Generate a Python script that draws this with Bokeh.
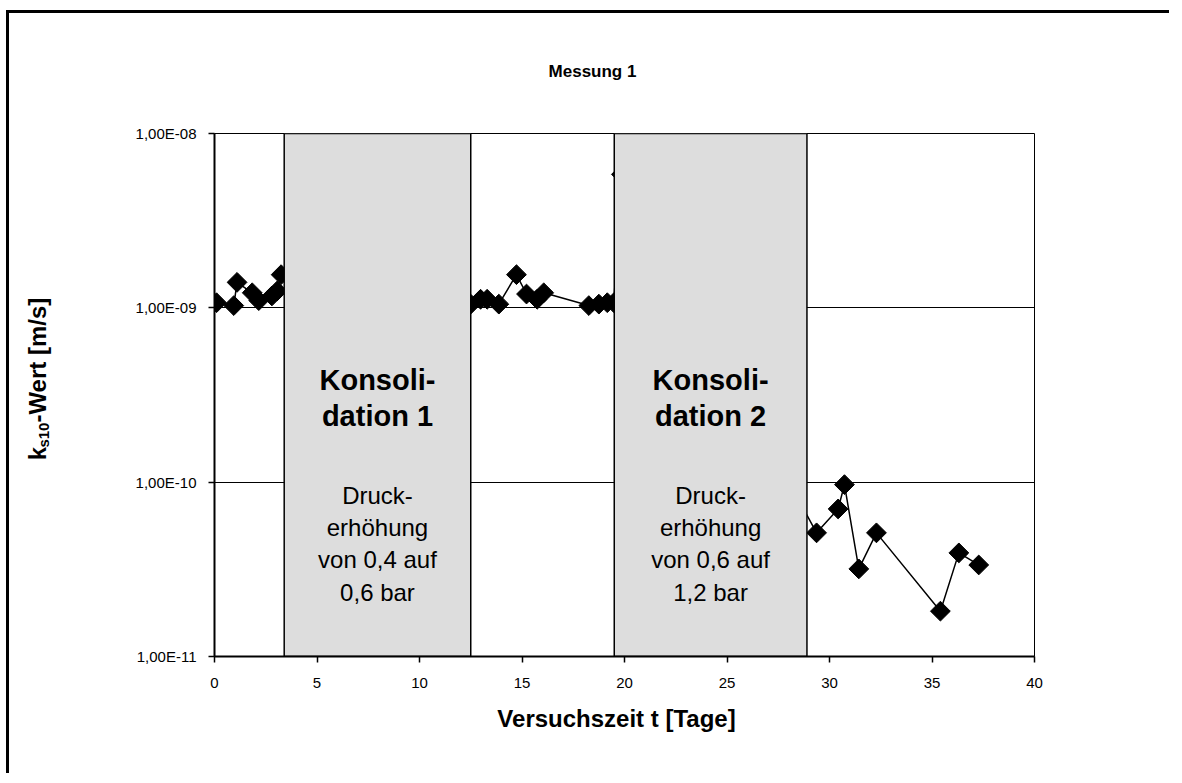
import math
from bokeh.plotting import figure
from bokeh.layouts import column, row
from bokeh.models import Range1d, FixedTicker, CustomJSTickFormatter, Label, ColumnDataSource
from bokeh.embed import file_html
from bokeh.resources import INLINE

# ---------------- data ----------------
title_text = "Messung 1"
x_title = "Versuchszeit t [Tage]"
y_title_main = "k"
y_title_sub = "s10"
y_title_rest = "-Wert [m/s]"

days = [0.1, 0.94, 1.1, 1.84, 2.16, 2.8, 3.06, 3.25,
        12.5, 12.98, 13.3, 13.87, 14.73, 15.22, 15.74, 16.06,
        18.26, 18.75, 19.16, 19.48, 19.85,
        29.37, 30.42, 30.73, 31.43, 32.29, 35.41, 36.31, 37.28]
k_values = [1.07e-9, 1.03e-9, 1.40e-9, 1.22e-9, 1.10e-9, 1.17e-9, 1.25e-9, 1.55e-9,
            1.05e-9, 1.12e-9, 1.12e-9, 1.05e-9, 1.55e-9, 1.20e-9, 1.12e-9, 1.22e-9,
            1.03e-9, 1.05e-9, 1.07e-9, 1.07e-9, 5.83e-9,
            5.12e-11, 7.02e-11, 9.68e-11, 3.18e-11, 5.12e-11, 1.82e-11, 3.93e-11, 3.35e-11]

x_ticks = [0, 5, 10, 15, 20, 25, 30, 35, 40]
y_ticks = [1e-11, 1e-10, 1e-9, 1e-8]
y_tick_labels = ["1,00E-11", "1,00E-10", "1,00E-09", "1,00E-08"]

phase_start = [3.4, 19.5]
phase_end = [12.5, 28.9]
phase_top = [1e-8, 1e-8]
phase_bottom = [1e-11, 1e-11]
phase_titles = [["Konsoli-", "dation 1"], ["Konsoli-", "dation 2"]]
phase_notes = [["Druck-", "erhöhung", "von 0,4 auf", "0,6 bar"],
               ["Druck-", "erhöhung", "von 0,6 auf", "1,2 bar"]]

# ---------------- layout (page pixels) ----------------
FONT = "Liberation Sans"
OX, OY = 9, 13            # content origin inside the bordered container
TOTAL_W = 1160
TOP_H = 100               # strip holding the chart title
MID_H = 587               # main plot row
BOT_H = 73                # strip holding the x-axis title
YLAB_W = 90               # strip holding the y-axis title
FRAME_LEFT, FRAME_TOP, FRAME_RIGHT, FRAME_BOTTOM = 214, 133, 1034, 656


def text_fig(w, h, x0, y0):
    """A blank figure whose data coordinates equal page pixels (y downwards)."""
    f = figure(width=w, height=h, x_range=Range1d(x0, x0 + w), y_range=Range1d(y0 + h, y0),
               min_border=0, min_border_left=0, min_border_right=0,
               min_border_top=0, min_border_bottom=0,
               toolbar_location=None, output_backend="svg",
               x_axis_location=None, y_axis_location=None,
               outline_line_color=None, background_fill_color="white",
               border_fill_color="white")
    f.grid.visible = False
    f.xgrid.grid_line_color = None
    f.ygrid.grid_line_color = None
    return f


def fy(py):   # page y -> frame-relative screen y in the main plot
    return FRAME_BOTTOM - py


# --- main plot ---
p_left = OX + YLAB_W
p_top = OY + TOP_H
p_w = TOTAL_W - YLAB_W
p = figure(width=p_w, height=MID_H, y_axis_type="log",
           x_range=Range1d(0, 40), y_range=Range1d(1e-11, 1e-8),
           output_backend="svg", toolbar_location=None,
           min_border_left=FRAME_LEFT - p_left,
           min_border_right=p_w - (FRAME_LEFT - p_left) - (FRAME_RIGHT - FRAME_LEFT),
           min_border_top=FRAME_TOP - p_top,
           min_border_bottom=MID_H - (FRAME_TOP - p_top) - (FRAME_BOTTOM - FRAME_TOP),
           background_fill_color="white", border_fill_color="white")

p.outline_line_color = "black"
p.outline_line_width = 1
p.xgrid.grid_line_color = None
p.ygrid.ticker = FixedTicker(ticks=y_ticks)
p.ygrid.grid_line_color = "black"
p.ygrid.grid_line_width = 1

p.xaxis.ticker = FixedTicker(ticks=x_ticks)
p.yaxis.ticker = FixedTicker(ticks=y_ticks)
p.yaxis.formatter = CustomJSTickFormatter(args=dict(tvals=y_ticks, labs=y_tick_labels), code="""
let best = 0, bd = 1e9;
for (let i = 0; i < tvals.length; i++) {
  const d = Math.abs(Math.log10(tvals[i]) - Math.log10(tick));
  if (d < bd) { bd = d; best = i; }
}
return labs[best];
""")
for ax in (p.xaxis[0], p.yaxis[0]):
    ax.axis_line_color = "black"
    ax.axis_line_width = 2
    ax.major_tick_line_color = "black"
    ax.major_tick_line_width = 1.5
    ax.major_tick_out = 6
    ax.major_tick_in = 0
    ax.minor_tick_line_color = None
    ax.major_label_text_font = FONT
    ax.major_label_text_font_size = "15px"
    ax.major_label_text_color = "black"
p.xaxis.major_label_standoff = 15
p.yaxis.major_label_standoff = 12

src = ColumnDataSource(dict(x=days, y=k_values))
p.line("x", "y", source=src, line_color="black", line_width=1.5)
p.scatter("x", "y", source=src, marker="square", angle=math.pi / 4, size=14,
          fill_color="black", line_color="black")

p.quad(left=phase_start, right=phase_end, top=phase_top, bottom=phase_bottom,
       fill_color="#dddddd", line_color="black", line_width=1.5)

for i in range(len(phase_start)):
    cx = (phase_start[i] + phase_end[i]) / 2
    for t, py in zip(phase_titles[i], [379, 415]):
        p.add_layout(Label(x=cx, y=fy(py), y_units="screen", text=t,
                           text_font=FONT, text_font_style="bold", text_font_size="29px",
                           text_align="center", text_baseline="middle", text_color="black"))
    for t, py in zip(phase_notes[i], [495, 527, 559, 592]):
        p.add_layout(Label(x=cx, y=fy(py), y_units="screen", text=t,
                           text_font=FONT, text_font_size="24px",
                           text_align="center", text_baseline="middle", text_color="black"))

# --- title strip ---
top_fig = text_fig(TOTAL_W, TOP_H, OX, OY)
top_fig.add_layout(Label(x=592, y=71, text=title_text, text_font=FONT, text_font_style="bold",
                         text_font_size="17px", text_align="center", text_baseline="middle",
                         text_color="black"))

# --- x-axis title strip ---
bot_fig = text_fig(TOTAL_W, BOT_H, OX, OY + TOP_H + MID_H)
bot_fig.add_layout(Label(x=616, y=718, text=x_title, text_font=FONT, text_font_style="bold",
                         text_font_size="24px", text_align="center", text_baseline="middle",
                         text_color="black"))

# --- y-axis title strip (rotated, with subscript) ---
y_fig = text_fig(YLAB_W, MID_H, OX, OY + TOP_H)
base_x = 37
fs_main, fs_sub = 24, 15
k_len = 0.556 * fs_main + 1
sub_len = 1.668 * fs_sub + 3
rest_len = 5.222 * fs_main
y_start = 396 + (k_len + sub_len + rest_len) / 2
y_fig.add_layout(Label(x=base_x, y=y_start, text=y_title_main, angle=math.pi / 2,
                       text_font=FONT, text_font_style="bold", text_font_size=f"{fs_main}px",
                       text_align="left", text_baseline="alphabetic", text_color="black"))
y_fig.add_layout(Label(x=base_x + 6, y=y_start - k_len, text=y_title_sub, angle=math.pi / 2,
                       text_font=FONT, text_font_style="bold", text_font_size=f"{fs_sub}px",
                       text_align="left", text_baseline="alphabetic", text_color="black"))
y_fig.add_layout(Label(x=base_x, y=y_start - k_len - sub_len, text=y_title_rest, angle=math.pi / 2,
                       text_font=FONT, text_font_style="bold", text_font_size=f"{fs_main}px",
                       text_align="left", text_baseline="alphabetic", text_color="black"))

layout = column(top_fig, row(y_fig, p), bot_fig)
layout.styles = {"margin-left": "6px", "margin-top": "10px",
                 "border-left": "3px solid black", "border-top": "3px solid black"}

open("out.html", "w").write(file_html(layout, INLINE))
